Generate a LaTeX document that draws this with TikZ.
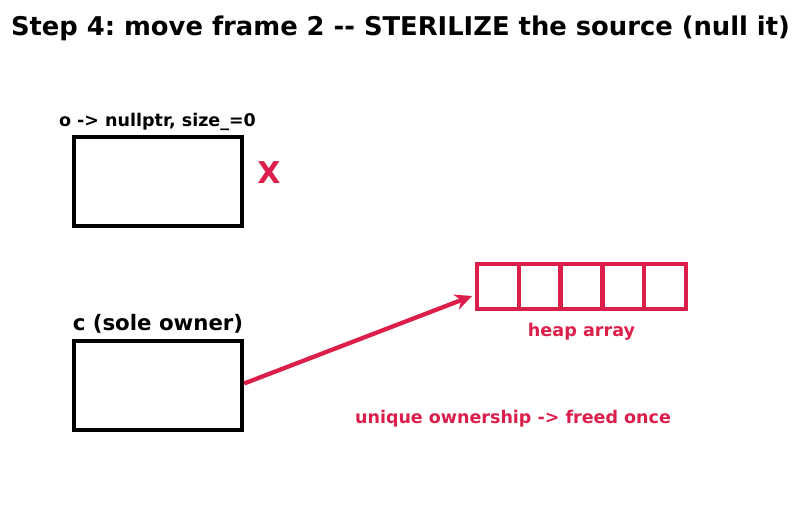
\documentclass[tikz,border=0pt]{standalone}
\usepackage{fontspec}
\setmainfont{DejaVu Sans}
\usetikzlibrary{arrows.meta}
\definecolor{crim}{HTML}{DC1E4A}
\frenchspacing
\begin{document}
\begin{tikzpicture}[x=1pt,y=-1pt,
  txt/.style={inner sep=0pt},
  frame/.style={draw=black, line width=4.3pt},
  cell/.style={draw=crim, line width=4.3pt},
  ptr/.style={draw=crim, line width=4.3pt, -{Stealth[length=17pt,width=16pt]}}]
\useasboundingbox (0,0) rectangle (801,512);
\node[txt, font=\bfseries\fontsize{25.8}{30}\selectfont] (title) at (400.5,28) {Step 4: move frame 2 -{}- STERILIZE the source (null it)};
\node[txt, font=\bfseries\fontsize{17.5}{21}\selectfont] (olab) at (157.5,121.5) {o -> nullptr, size\_=0};
\draw[frame] (74,137) rectangle (242,226);
\coordinate (o) at (158,181.5);
\node[txt, text=crim, font=\bfseries\fontsize{30}{36}\selectfont] (x) at (269,173) {X};
\node[txt, font=\bfseries\fontsize{21.3}{25}\selectfont] (clab) at (158,323.5) {c (sole owner)};
\node[frame, minimum width=168pt, minimum height=89pt, inner sep=0pt] (c) at (158,385.5) {};
\foreach \i in {0,...,4}{
  \draw[cell] ({477+\i*41.8},264) rectangle ({477+(\i+1)*41.8},309);
}
\node[minimum width=209pt, minimum height=45pt, inner sep=0pt] (heap) at (581.5,286.5) {};
\node[txt, text=crim, font=\bfseries\fontsize{17.6}{21}\selectfont] (hlab) at (581.5,331.5) {heap array};
\node[txt, text=crim, font=\bfseries\fontsize{17.5}{21}\selectfont] (ulab) at (513,418.5) {unique ownership -> freed once};
\coordinate (tip) at (472,296);
\draw[ptr] (c.east) ++(0,-2) -- (tip);
\end{tikzpicture}
\end{document}
